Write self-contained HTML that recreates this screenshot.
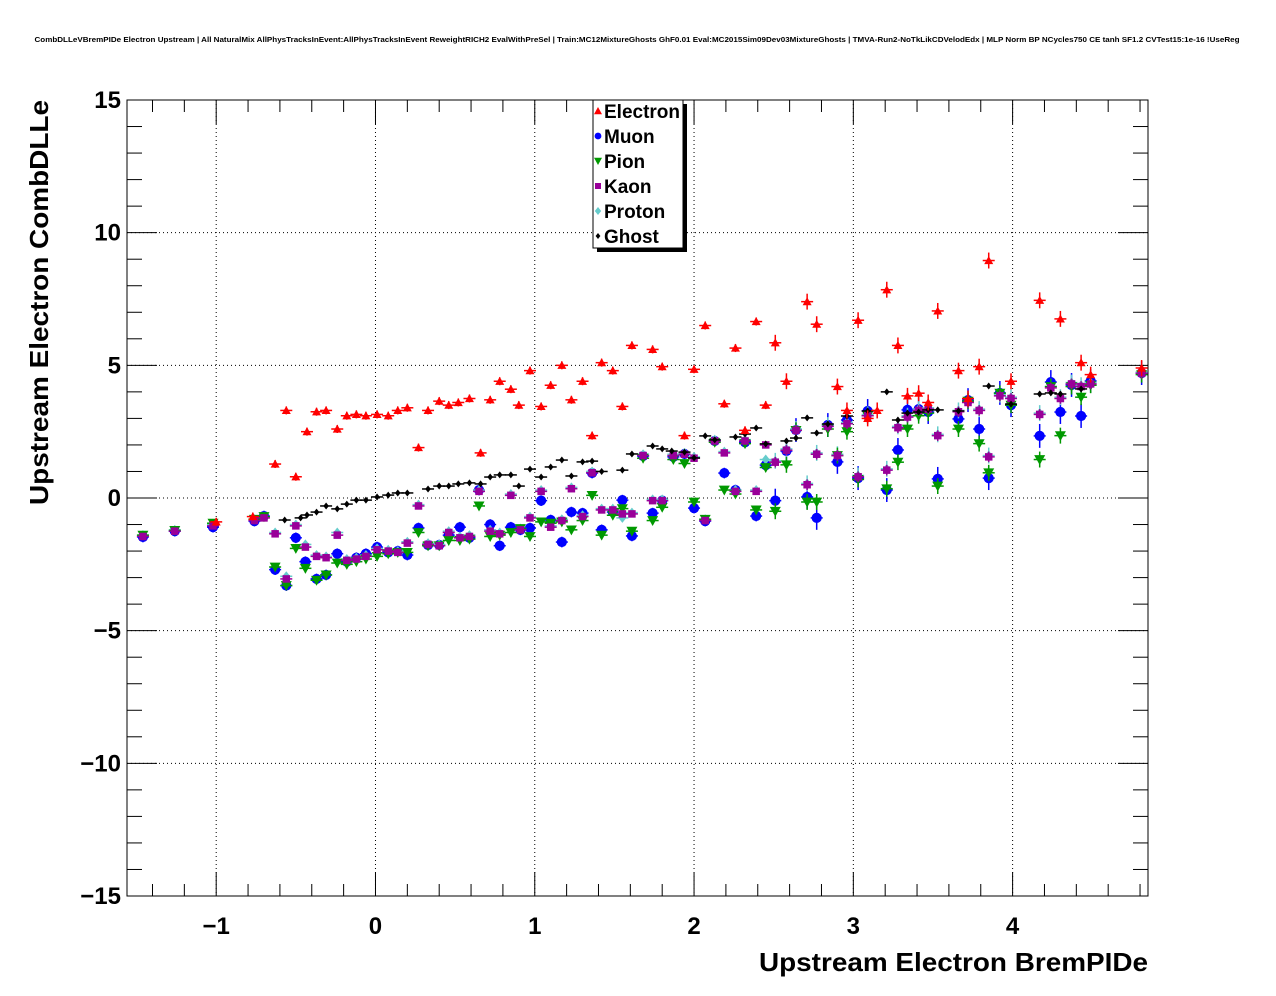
<!DOCTYPE html>
<html><head><meta charset="utf-8"><style>
html,body{margin:0;padding:0;background:#fff;}
svg{display:block;font-family:"Liberation Sans",Arial,sans-serif;}
</style></head><body>
<svg id="c" width="1276" height="996" viewBox="0 0 1276 996">
<text x="637" y="42" font-size="7.5" font-weight="bold" text-anchor="middle" textLength="1205" lengthAdjust="spacingAndGlyphs">CombDLLeVBremPIDe Electron Upstream | All NaturalMix AllPhysTracksInEvent:AllPhysTracksInEvent ReweightRICH2 EvalWithPreSel | Train:MC12MixtureGhosts GhF0.01 Eval:MC2015Sim09Dev03MixtureGhosts | TMVA-Run2-NoTkLikCDVelodEdx | MLP Norm BP NCycles750 CE tanh SF1.2 CVTest15:1e-16 !UseReg</text>
<g id="grid"></g>
<g id="axes"></g>
<g id="marks"></g>
<text x="1148" y="971" font-size="26" font-weight="bold" text-anchor="end" textLength="389" lengthAdjust="spacingAndGlyphs">Upstream Electron BremPIDe</text>
<text transform="translate(48,100) rotate(-90)" font-size="26" font-weight="bold" text-anchor="end" textLength="405" lengthAdjust="spacingAndGlyphs">Upstream Electron CombDLLe</text>
<g id="legend"></g>
</svg>
<script>
const xTicks=[-1,0,1,2,3,4];
const yTicks=[-15,-10,-5,0,5,10,15];
const seriesNames=["Electron","Muon","Pion","Kaon","Proton","Ghost"];
const eX=[-1.0,-0.77,-0.63,-0.56,-0.5,-0.43,-0.37,-0.31,-0.24,-0.18,-0.12,-0.06,0.01,0.08,0.14,0.2,0.27,0.33,0.4,0.46,0.52,0.59,0.66,0.72,0.78,0.85,0.9,0.97,1.04,1.1,1.17,1.23,1.3,1.36,1.42,1.49,1.55,1.61,1.74,1.8,1.94,2.0,2.07,2.19,2.26,2.32,2.39,2.45,2.51,2.58,2.71,2.77,2.9,2.96,3.03,3.09,3.15,3.21,3.28,3.34,3.41,3.47,3.53,3.66,3.72,3.79,3.85,3.99,4.17,4.3,4.43,4.49,4.81];
const eY=[-0.9,-0.7,1.28,3.3,0.8,2.5,3.25,3.3,2.6,3.1,3.15,3.1,3.15,3.1,3.3,3.4,1.9,3.3,3.65,3.5,3.6,3.75,1.7,3.7,4.4,4.1,3.5,4.8,3.45,4.25,5.0,3.7,4.4,2.35,5.1,4.8,3.45,5.75,5.6,4.95,2.35,4.85,6.5,3.55,5.65,2.55,6.65,3.5,5.85,4.4,7.4,6.55,4.2,3.3,6.7,3.0,3.3,7.85,5.75,3.85,3.95,3.6,7.05,4.8,3.75,4.95,8.95,4.4,7.45,6.75,5.1,4.65,4.9];
const bX=[-1.46,-1.26,-1.02,-0.76,-0.7,-0.63,-0.56,-0.5,-0.44,-0.37,-0.31,-0.24,-0.18,-0.12,-0.06,0.01,0.08,0.14,0.2,0.27,0.33,0.4,0.46,0.53,0.59,0.65,0.72,0.78,0.85,0.91,0.97,1.04,1.1,1.17,1.23,1.3,1.36,1.42,1.49,1.55,1.61,1.68,1.74,1.8,1.87,1.94,2.0,2.07,2.13,2.19,2.26,2.32,2.39,2.45,2.51,2.58,2.64,2.71,2.77,2.84,2.9,2.96,3.03,3.09,3.21,3.28,3.34,3.41,3.47,3.53,3.66,3.72,3.79,3.85,3.92,3.99,4.17,4.24,4.3,4.37,4.43,4.49,4.81];
const muY=[-1.47,-1.25,-1.1,-0.87,-0.68,-2.7,-3.3,-1.5,-2.4,-3.05,-2.9,-2.1,-2.4,-2.25,-2.1,-1.85,-2.05,-2.0,-2.15,-1.13,-1.77,-1.77,-1.4,-1.1,-1.5,0.3,-1.0,-1.8,-1.1,-1.2,-1.13,-0.1,-0.83,-1.66,-0.53,-0.57,0.94,-1.2,-0.53,-0.08,-1.43,1.58,-0.57,-0.1,1.55,1.66,-0.38,-0.87,2.15,0.94,0.3,2.1,-0.68,1.24,-0.1,1.77,2.56,0.04,-0.75,2.75,1.36,2.94,0.75,3.28,0.3,1.81,3.32,3.35,3.24,0.72,2.98,3.69,2.6,0.75,3.96,3.5,2.34,4.37,3.24,4.26,3.09,4.41,4.71];
const piY=[-1.4,-1.22,-0.95,-0.8,-0.7,-2.6,-3.3,-1.9,-2.65,-3.1,-2.9,-2.45,-2.5,-2.4,-2.3,-2.2,-2.1,-2.05,-2.05,-1.3,-1.8,-1.8,-1.6,-1.6,-1.55,-0.3,-1.45,-1.4,-1.3,-1.15,-1.45,-0.9,-0.95,-0.9,-1.2,-0.85,0.1,-1.4,-0.65,-0.4,-1.25,1.5,-0.85,-0.35,1.45,1.3,-0.15,-0.8,2.1,0.3,0.15,2.05,-0.45,1.15,-0.5,1.25,2.55,-0.15,-0.15,2.6,1.6,2.5,0.7,3.1,0.35,1.35,2.6,3.1,3.2,0.45,2.6,3.65,2.05,0.95,3.95,3.5,1.45,4.2,2.35,4.2,3.8,4.25,4.65];
const kaY=[-1.45,-1.25,-1.05,-0.85,-0.75,-1.35,-3.05,-1.05,-1.85,-2.2,-2.25,-1.4,-2.35,-2.3,-2.2,-1.95,-2.0,-2.05,-1.7,-0.3,-1.75,-1.8,-1.3,-1.5,-1.45,0.25,-1.25,-1.35,0.1,-1.2,-0.75,0.25,-1.1,-0.85,0.35,-0.7,0.95,-0.45,-0.45,-0.6,-0.6,1.6,-0.1,-0.1,1.6,1.65,1.5,-0.85,2.15,1.7,0.25,2.15,0.25,2.0,1.35,1.8,2.55,0.5,1.65,2.7,1.6,2.8,0.8,3.1,1.05,2.65,3.05,3.3,3.35,2.35,3.25,3.6,3.3,1.55,3.85,3.75,3.15,4.15,3.75,4.3,4.2,4.3,4.7];
const prY=[-1.4,-1.2,-1.0,-0.8,-0.7,-1.3,-2.95,-1.0,-1.75,-2.15,-2.2,-1.3,-2.3,-2.25,-2.15,-1.9,-1.95,-2.0,-1.65,-0.25,-1.7,-1.75,-1.25,-1.45,-1.4,0.3,-1.2,-1.3,0.15,-1.15,-0.7,0.3,-1.05,-0.8,0.4,-0.65,1.0,-0.4,-0.4,-0.75,-0.55,1.65,-0.05,-0.05,1.65,1.7,1.55,-0.8,2.2,1.75,0.3,2.2,0.3,1.45,1.4,1.85,2.6,0.55,1.7,2.75,1.65,2.85,0.85,3.15,1.1,2.7,3.1,3.35,3.4,2.4,3.3,3.65,3.35,1.6,3.9,3.8,3.2,4.2,3.8,4.35,4.25,4.35,4.75];
const gX=[-0.57,-0.47,-0.43,-0.37,-0.31,-0.24,-0.18,-0.12,-0.06,0.01,0.08,0.14,0.2,0.33,0.4,0.46,0.52,0.59,0.66,0.72,0.78,0.85,0.9,0.97,1.04,1.1,1.17,1.23,1.3,1.36,1.42,1.55,1.61,1.74,1.8,1.86,1.94,2.0,2.07,2.13,2.26,2.32,2.39,2.45,2.58,2.64,2.71,2.77,2.84,2.96,3.09,3.21,3.28,3.34,3.41,3.47,3.53,3.66,3.85,3.99,4.17,4.24,4.3,4.43];
const gY=[-0.83,-0.75,-0.64,-0.53,-0.3,-0.41,-0.23,-0.08,-0.08,0.04,0.11,0.19,0.19,0.34,0.45,0.45,0.53,0.57,0.53,0.79,0.87,0.87,0.45,1.09,0.79,1.17,1.43,0.83,1.36,1.39,1.0,1.05,1.66,1.96,1.85,1.77,1.73,1.51,2.34,2.19,2.3,2.41,2.64,2.04,2.15,2.26,3.02,2.45,2.79,3.09,3.28,4.0,2.94,3.2,3.24,3.32,3.32,3.28,4.22,3.54,3.92,3.96,3.92,4.11];

const NS="http://www.w3.org/2000/svg";
const L=127,R=1148,T=100,B=896,XMIN=-1.56,XMAX=4.85,YMIN=-15,YMAX=15;
const sx=v=>L+(v-XMIN)/(XMAX-XMIN)*(R-L);
const sy=v=>B-(v-YMIN)/(YMAX-YMIN)*(B-T);
function mk(tag,parent,attrs){const e=document.createElementNS(NS,tag);for(const k in attrs)e.setAttribute(k,attrs[k]);parent.appendChild(e);return e;}
const grid=document.getElementById('grid'),axes=document.getElementById('axes'),marks=document.getElementById('marks'),leg=document.getElementById('legend');
mk('rect',axes,{x:L,y:T,width:R-L,height:B-T,fill:'none',stroke:'#000','stroke-width':1});
xTicks.forEach(v=>{const x=sx(v);
 const g=mk('line',grid,{x1:x,x2:x,y1:T,y2:B,stroke:'#000','stroke-dasharray':'1,3'});
 
 const t=mk('text',axes,{x:x,y:934,'font-size':24,'font-weight':'bold','text-anchor':'middle'});
 t.textContent=v<0?'\u2212'+(-v):String(v);
 });
for(let i=Math.ceil(XMIN/0.2);i*0.2<=XMAX;i++){const v=i*0.2;const x=sx(v);const maj=Math.abs(v-Math.round(v))<1e-6;const len=maj?24:12;
 mk('line',axes,{x1:x,x2:x,y1:B,y2:B-len,stroke:'#000'});mk('line',axes,{x1:x,x2:x,y1:T,y2:T+len,stroke:'#000'});}
yTicks.forEach(v=>{const y=sy(v);
 if(v>YMIN&&v<YMAX){const g=mk('line',grid,{x1:L,x2:R,y1:y,y2:y,stroke:'#000','stroke-dasharray':'1,3'});
 }
 const t=mk('text',axes,{x:121,y:y+8,'font-size':24,'font-weight':'bold','text-anchor':'end'});
 t.textContent=v<0?'\u2212'+(-v):String(v);
 });
for(let v=YMIN;v<=YMAX;v++){const y=sy(v);const len=(v%5===0)?30:15;
 mk('line',axes,{x1:L,x2:L+len,y1:y,y2:y,stroke:'#000'});mk('line',axes,{x1:R,x2:R-len,y1:y,y2:y,stroke:'#000'});}
function marker(p,kind,col,x,y,s){
 if(kind==='tu')mk('polygon',p,{points:`${x-s},${y+s*0.8} ${x+s},${y+s*0.8} ${x},${y-s}`,fill:col});
 else if(kind==='td')mk('polygon',p,{points:`${x-s},${y-s*0.8} ${x+s},${y-s*0.8} ${x},${y+s}`,fill:col});
 else if(kind==='c')mk('circle',p,{cx:x,cy:y,r:s*0.85,fill:col});
 else if(kind==='sq')mk('rect',p,{x:x-s*0.75,y:y-s*0.75,width:s*1.5,height:s*1.5,fill:col});
 else if(kind==='d')mk('polygon',p,{points:`${x},${y-s} ${x+s*0.8},${y} ${x},${y+s} ${x-s*0.8},${y}`,fill:col});
}
function series(name,xs,ys,kind,col,s,e1,e2){
 const g=mk('g',marks,{});
 
 
 xs.forEach((xv,i)=>{if(ys[i]===undefined)return;const x=sx(xv),y=sy(ys[i]);
  mk('line',g,{x1:x-6,x2:x+6,y1:y,y2:y,stroke:col,'stroke-width':1.5});
  const ey=sy(0)-sy(xv>2.5?e2:e1);
  mk('line',g,{x1:x,x2:x,y1:y-ey,y2:y+ey,stroke:col,'stroke-width':1.5});
  marker(g,kind,col,x,y,s);});
}
series('muon',bX,muY,'c','#0000ff',6,0.2,0.45);
series('proton',bX,prY,'d','#66cccc',5,0.15,0.3);
series('pion',bX,piY,'td','#009900',5.5,0.15,0.3);
series('kaon',bX,kaY,'sq','#990099',5,0.1,0.2);
series('ghost',gX,gY,'d','#000',3.5,0.05,0.1);
series('electron',eX,eY,'tu','#ff0000',4.5,0.15,0.3);
// legend
mk('rect',leg,{x:597,y:104,width:90,height:148,fill:'#000'});
const lb=mk('rect',leg,{x:593,y:100,width:90,height:148,fill:'#fff',stroke:'#000'});
const lk=[['tu','#ff0000'],['c','#0000ff'],['td','#009900'],['sq','#990099'],['d','#66cccc'],['d','#000']];
seriesNames.forEach((n,i)=>{const y=111+i*25;const e=mk('g',leg,{});
 
 
 marker(e,lk[i][0],lk[i][1],598,y,i===5?3:4);
 const t=mk('text',e,{x:604,y:y+7,'font-size':19,'font-weight':'bold'});t.textContent=n;});
</script>
</body></html>
